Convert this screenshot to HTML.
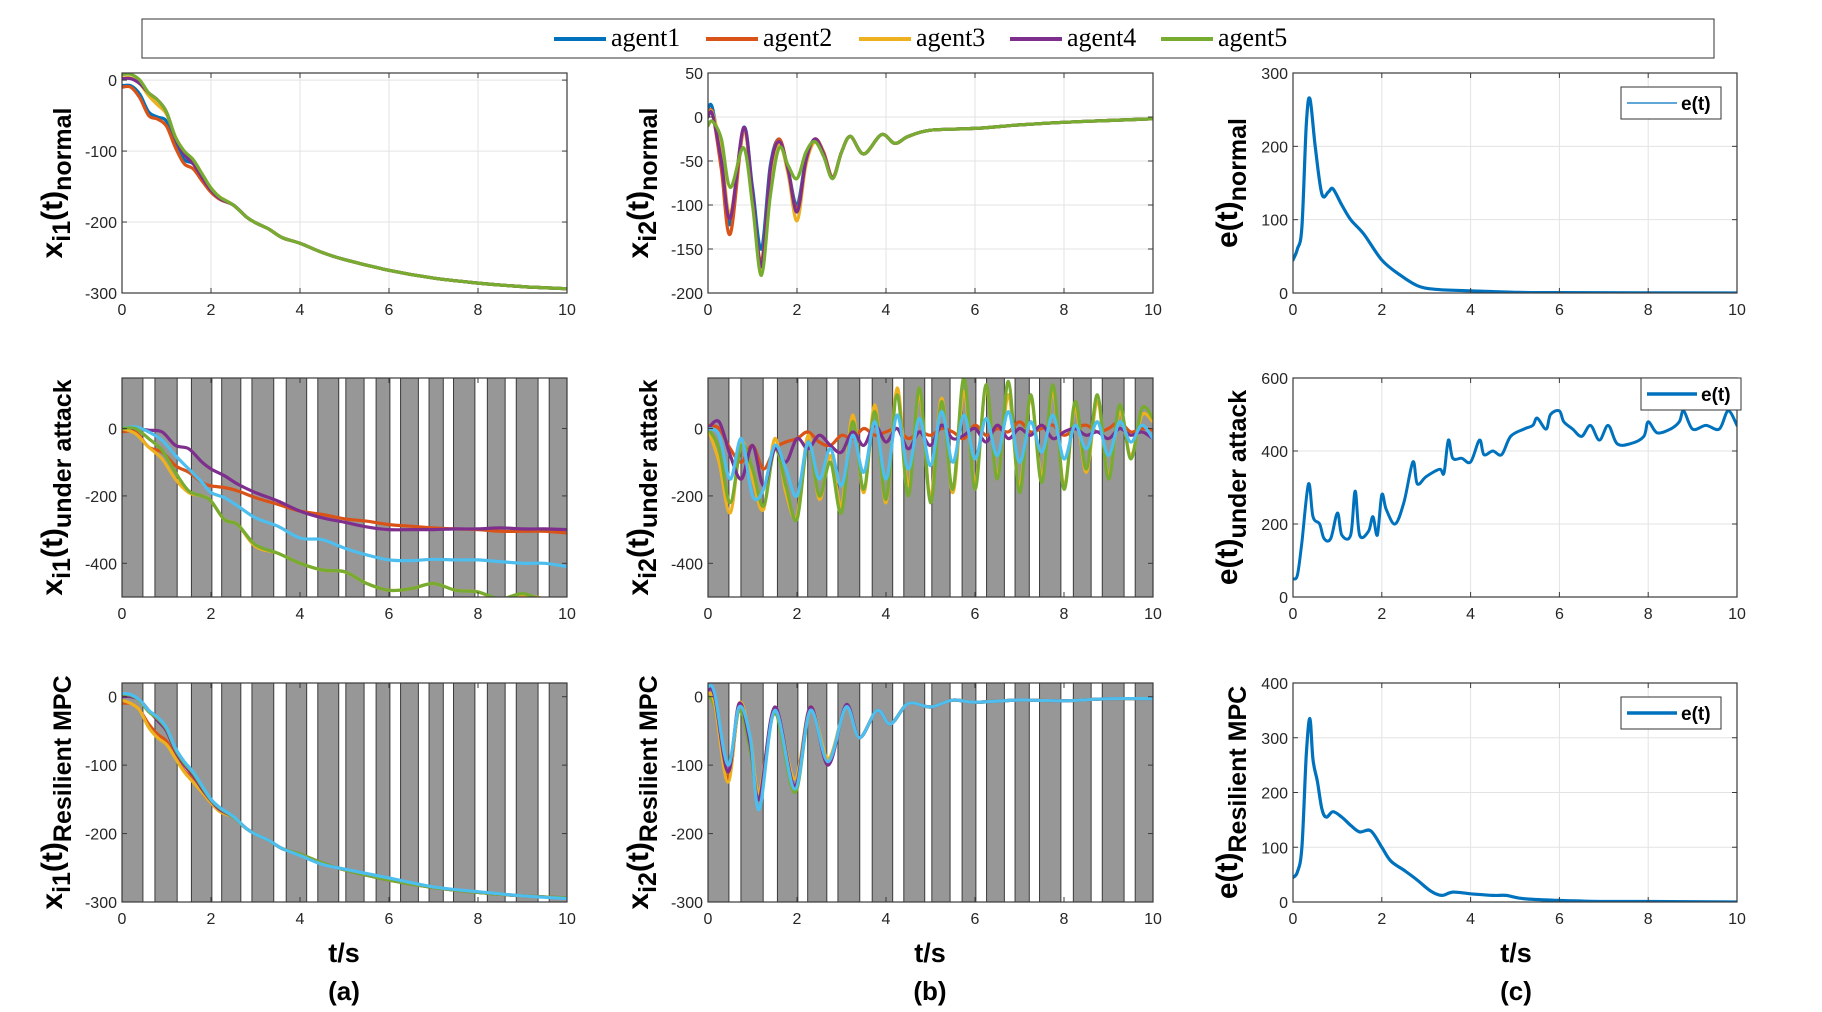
<!DOCTYPE html>
<html><head><meta charset="utf-8"><style>
html,body{margin:0;padding:0;background:#fff}
svg{display:block}
</style></head><body>
<svg id="fig" width="1822" height="1012" xmlns="http://www.w3.org/2000/svg" font-family="Liberation Sans, sans-serif">
<rect x="0" y="0" width="1822" height="1012" fill="#fff"/>
<g>
<rect x="142" y="19" width="1572" height="39" fill="#fff" stroke="#333" stroke-width="1"/>
</g>
</svg>
<script>
// ---------- data ----------
const COLORS = ['#0072BD','#D95319','#EDB120','#7E2F8E','#77AC30','#4DBEEE'];
const legendNames = ['agent1','agent2','agent3','agent4','agent5'];
const attackGaps = [[0.47,0.74],[1.24,1.56],[2.02,2.24],[2.67,2.92],[3.41,3.69],[4.15,4.40],[4.87,5.03],[5.44,5.71],[6.02,6.26],[6.66,6.90],[7.22,7.45],[7.93,8.21],[8.61,8.86],[9.35,9.60]];

const T1 = [0,0.2,0.4,0.6,0.8,1.0,1.2,1.4,1.6,1.8,2.0,2.2,2.5,2.8,3.0,3.3,3.6,4,4.5,5,6,7,8,9,10];
const tail1 = [-176,-193,-201,-210,-222,-230,-243,-253,-268,-279,-286,-291,-294];
const n1_green  = [8,8,0,-18,-28,-45,-80,-100,-112,-132,-152,-165].concat(tail1);
const n1_yellow = [3,3,-5,-22,-35,-48,-80,-102,-115,-135,-152,-165].concat(tail1);
const n1_purple = [2,2,-5,-18,-28,-45,-82,-105,-118,-137,-155,-167].concat(tail1);
const n1_blue   = [-8,-8,-20,-45,-52,-58,-88,-112,-118,-138,-155,-168].concat(tail1);
const n1_red    = [-10,-10,-25,-50,-55,-65,-95,-118,-125,-142,-158,-168].concat(tail1);

const T2 = [0,0.1,0.3,0.5,0.8,1.0,1.2,1.4,1.6,1.8,2.0,2.2,2.4,2.6,2.8,3.0,3.2,3.5,3.9,4.2,4.5,5,6,7,8,9,10];
const tail2 = [-40,-22,-42,-20,-30,-22,-15,-13,-9,-6,-4,-2];
const n2_red    = [0,5,-60,-133,-15,-90,-165,-60,-25,-60,-105,-50,-25,-40,-68].concat(tail2);
const n2_blue   = [10,10,-50,-122,-12,-80,-150,-55,-25,-60,-100,-48,-25,-42,-70].concat(tail2);
const n2_yellow = [0,5,-40,-110,-15,-90,-175,-70,-30,-65,-118,-55,-28,-42,-70].concat(tail2);
const n2_purple = [0,3,-50,-115,-12,-85,-170,-60,-28,-60,-108,-50,-25,-42,-69].concat(tail2);
const n2_green  = [-10,-5,-25,-80,-35,-100,-180,-90,-35,-55,-70,-40,-28,-45,-70].concat(tail2);

const Te1 = [0,0.1,0.2,0.3,0.38,0.5,0.65,0.8,0.9,1.1,1.3,1.6,2,2.4,2.8,3.2,4,5,6,10];
const e1  = [45,60,90,230,265,200,135,138,142,120,100,80,45,25,10,5,3,1,0.5,0];

const T3 = [0,0.3,0.6,0.9,1.2,1.5,1.8,2.0,2.3,2.6,3.0,3.5,4,4.5,5,5.5,6,6.5,7,7.5,8,8.5,9,9.5,10];
const a1_purple = [0,0,-5,-10,-50,-60,-100,-120,-140,-165,-190,-215,-245,-265,-278,-292,-300,-300,-300,-298,-298,-295,-298,-298,-300];
const a1_red    = [-10,-10,-55,-70,-110,-130,-160,-170,-175,-185,-205,-225,-245,-255,-268,-275,-285,-290,-295,-298,-300,-305,-305,-305,-310];
const a1_cyan   = [0,5,-10,-35,-80,-120,-160,-190,-205,-230,-265,-290,-325,-330,-355,-375,-390,-392,-388,-390,-390,-395,-400,-400,-410];
const a1_yellow = [0,-15,-55,-90,-150,-190,-200,-215,-270,-285,-350,-370,-400,-420,-425,-460,-480,-475,-460,-480,-485,-510,-495,-505,-510];
const a1_green  = [0,0,-30,-65,-130,-185,-200,-215,-270,-285,-345,-370,-400,-420,-425,-460,-480,-475,-460,-480,-485,-505,-490,-510,-510];

const T4 = [0,0.25,0.5,0.75,1,1.25,1.5,1.75,2,2.25,2.5,2.75,3,3.25,3.5,3.75,4,4.25,4.5,4.75,5,5.25,5.5,5.75,6,6.25,6.5,6.75,7,7.25,7.5,7.75,8,8.25,8.5,8.75,9,9.25,9.5,9.75,10];
const a2_red    = [10,0,-60,-100,-50,-120,-60,-40,-30,-10,-40,-50,-20,-30,0,-20,-10,0,-30,-10,-20,0,-10,-30,10,-20,0,-10,20,-10,0,10,-20,0,10,-10,0,20,-10,0,-5];
const a2_purple = [0,20,-80,-150,-50,-170,-60,-100,-30,-60,-20,-50,-70,-10,-50,10,-40,0,-60,-10,-50,10,-30,-20,0,-40,10,-30,0,-20,10,-30,-10,0,-20,-10,-30,0,-20,-10,-30];
const a2_yellow = [0,-100,-250,-40,-150,-240,-30,-190,-260,-20,-210,-80,-230,40,-190,70,-220,120,-170,100,-200,90,-190,110,-160,120,-140,100,-170,90,-140,110,-170,60,-130,80,-140,50,-80,40,20];
const a2_green  = [0,-60,-220,-50,-120,-230,-60,-170,-270,-40,-200,-100,-250,20,-180,50,-210,100,-200,120,-220,80,-180,150,-180,130,-150,140,-190,100,-160,130,-180,80,-120,100,-150,70,-90,60,30];
const a2_cyan   = [0,-20,-150,-30,-200,-180,-50,-120,-200,-40,-150,-60,-170,-20,-130,20,-150,40,-120,30,-110,50,-100,40,-90,30,-80,50,-100,20,-70,40,-90,10,-60,20,-80,20,-40,10,-30];

const Te2 = [0,0.1,0.2,0.35,0.45,0.6,0.7,0.85,1.0,1.1,1.3,1.4,1.5,1.7,1.8,1.9,2.0,2.1,2.3,2.5,2.7,2.8,3.0,3.3,3.4,3.5,3.6,3.8,4.0,4.2,4.3,4.5,4.7,4.9,5.2,5.4,5.5,5.7,5.8,6.0,6.1,6.3,6.5,6.7,6.9,7.1,7.3,7.6,7.9,8.0,8.2,8.5,8.7,8.8,9.0,9.3,9.6,9.8,10];
const e2  = [50,60,150,310,220,200,160,160,230,170,170,290,170,180,220,170,280,240,200,260,370,310,330,350,340,430,380,380,370,430,390,400,390,440,460,470,490,460,500,510,480,460,440,470,430,470,420,420,440,480,450,460,480,510,460,470,460,510,470];

const r1_cyan   = [5,3,-5,-20,-30,-45,-75,-95,-110,-130,-150,-162,-175,-193,-201,-210,-222,-232,-245,-252,-265,-278,-285,-291,-295];
const r1_green  = [4,2,-6,-22,-32,-47,-77,-97,-112,-132,-151,-163].concat(tail1);
const r1_purple = [0,0,-5,-20,-35,-50,-80,-100,-115,-135,-152,-165].concat(tail1);
const r1_yellow = [-5,-10,-20,-45,-60,-70,-90,-110,-125,-140,-155,-168].concat(tail1);
const r1_red    = [-10,-10,-20,-40,-55,-65,-88,-108,-120,-140,-155,-167].concat(tail1);

const T5 = [0,0.15,0.45,0.7,0.95,1.15,1.5,1.95,2.3,2.7,3.1,3.4,3.8,4.1,4.5,5,5.5,6,7,8,9,10];
const tail5 = [-60,-20,-40,-10,-15,-5,-8,-5,-6,-3,-3];
const r2_red    = [10,0,-120,-15,-65,-145,-20,-130,-18,-95,-14].concat(tail5);
const r2_green  = [0,-15,-110,-20,-80,-145,-25,-140,-20,-95,-15].concat(tail5);
const r2_yellow = [5,-10,-125,-10,-60,-140,-20,-120,-15,-90,-15].concat(tail5);
const r2_purple = [10,0,-110,-10,-70,-150,-15,-130,-15,-100,-12].concat(tail5);
const r2_cyan   = [15,5,-100,-15,-60,-165,-20,-135,-20,-95,-15].concat(tail5);

const Te3 = [0,0.1,0.2,0.3,0.38,0.45,0.55,0.65,0.75,0.9,1.1,1.3,1.5,1.75,2.0,2.2,2.5,2.8,3.1,3.35,3.6,4.0,4.5,4.8,5.2,6,7,8,10];
const e3  = [45,55,100,270,335,260,220,170,155,165,155,140,128,130,100,75,58,40,20,12,18,15,12,12,6,3,1,1,0];

const xTicks = [0,2,4,6,8,10];

// ---------- layout ----------
const NS='http://www.w3.org/2000/svg';
const svg=document.getElementById('fig');
function mk(tag,attrs,parent){const e=document.createElementNS(NS,tag);for(const k in attrs)e.setAttribute(k,attrs[k]);(parent||svg).appendChild(e);return e;}
const colX=[[122,567],[708,1153],[1293,1737]];
const rowY=[[73,293],[378,597],[683,902]];

function smoothPath(pts){
  let d='M'+pts[0][0].toFixed(1)+','+pts[0][1].toFixed(1);
  for(let i=0;i<pts.length-1;i++){
    const p0=pts[i-1]||pts[i],p1=pts[i],p2=pts[i+1],p3=pts[i+2]||p2;
    const c1=[p1[0]+(p2[0]-p0[0])/6,p1[1]+(p2[1]-p0[1])/6];
    const c2=[p2[0]-(p3[0]-p1[0])/6,p2[1]-(p3[1]-p1[1])/6];
    d+='C'+c1[0].toFixed(1)+','+c1[1].toFixed(1)+' '+c2[0].toFixed(1)+','+c2[1].toFixed(1)+' '+p2[0].toFixed(1)+','+p2[1].toFixed(1);
  }
  return d;
}

let clipId=0;
function panel(name,c,r,ylim,yticks,stripes,grid,series,ylab,legend){
  const [x0,x1]=colX[c],[y0,y1]=rowY[r];
  const g=mk('g',{});
  
  
  const sx=t=>x0+(t/10)*(x1-x0);
  const sy=v=>y1-(v-ylim[0])/(ylim[1]-ylim[0])*(y1-y0);
  mk('rect',{x:x0,y:y0,width:x1-x0,height:y1-y0,fill:'#fff'},g);
  if(stripes){
    let s=0;
    const bounds=[];
    attackGaps.forEach(gp=>{bounds.push([s,gp[0]]);s=gp[1];});
    bounds.push([s,10]);
    bounds.forEach(b=>{
      const st=mk('rect',{x:sx(b[0]),y:y0,width:sx(b[1])-sx(b[0]),height:y1-y0,fill:'#979797',stroke:'#3a3a3a','stroke-width':1},g);
      
      
    });
  }
  if(grid){
    xTicks.forEach(t=>mk('line',{x1:sx(t),x2:sx(t),y1:y0,y2:y1,stroke:'#e3e3e3','stroke-width':1},g));
    yticks.forEach(v=>mk('line',{x1:x0,x2:x1,y1:sy(v),y2:sy(v),stroke:'#e3e3e3','stroke-width':1},g));
  }
  const cid='c'+(clipId++);
  const cp=mk('clipPath',{id:cid},g);
  mk('rect',{x:x0,y:y0,width:x1-x0,height:y1-y0},cp);
  const sg=mk('g',{'clip-path':'url(#'+cid+')'},g);
  series.forEach(s=>{
    const pts=s.t.map((t,i)=>[sx(t),sy(s.v[i])]);
    const p=mk('path',{d:smoothPath(pts),fill:'none',stroke:s.c,'stroke-width':s.w||3.2,'stroke-linejoin':'round','stroke-linecap':'round'},sg);
    
    
  });
  mk('rect',{x:x0,y:y0,width:x1-x0,height:y1-y0,fill:'none',stroke:'#3a3a3a','stroke-width':1.2},g);
  xTicks.forEach(t=>{
    mk('line',{x1:sx(t),x2:sx(t),y1:y1,y2:y1-5,stroke:'#3a3a3a'},g);
    mk('line',{x1:sx(t),x2:sx(t),y1:y0,y2:y0+5,stroke:'#3a3a3a'},g);
    const tx=mk('text',{x:sx(t),y:y1+22,'text-anchor':'middle','font-size':16,fill:'#262626'},g);
    tx.textContent=t;
    
    
  });
  yticks.forEach(v=>{
    mk('line',{x1:x0,x2:x0+5,y1:sy(v),y2:sy(v),stroke:'#3a3a3a'},g);
    mk('line',{x1:x1,x2:x1-5,y1:sy(v),y2:sy(v),stroke:'#3a3a3a'},g);
    const tx=mk('text',{x:x0-5,y:sy(v)+6,'text-anchor':'end','font-size':16,fill:'#262626'},g);
    tx.textContent=v;
    
    
  });
  // y label
  const lx=x0-(c==2?56:60), ly=(y0+y1)/2;
  const yl=mk('text',{transform:'translate('+lx+','+ly+') rotate(-90)','text-anchor':'middle','font-size':30,'font-weight':'bold',fill:'#000'},g);
  
  
  const a=mk('tspan',{},yl);a.textContent=ylab[0];
  if(ylab[1]){const b=mk('tspan',{'font-size':25,dy:8},yl);b.textContent=ylab[1];const d=mk('tspan',{dy:-8},yl);d.textContent='(t)';}
  const e=mk('tspan',{'font-size':25,dy:9},yl);e.textContent=ylab[2];
  if(legend){
    const lg=mk('g',{},g);
    
    
    mk('rect',{x:legend[0],y:legend[1],width:100,height:32,fill:'#fff',stroke:'#333','stroke-width':1},lg);
    mk('line',{x1:legend[0]+6,x2:legend[0]+56,y1:legend[1]+16,y2:legend[1]+16,stroke:COLORS[0],'stroke-width':legend[2]},lg);
    const t=mk('text',{x:legend[0]+60,y:legend[1]+23,'font-size':19,'font-weight':'bold'},lg);t.textContent='e(t)';
  }
}

function S(n,t,v,c,w){return {n:n,t:t,v:v,c:c,w:w};}
const Y1a=[0,-100,-200,-300], Y1b=[50,0,-50,-100,-150,-200];
panel('plot-x1-normal',0,0,[-300,10],Y1a,false,true,[
  S('agent1-line',T1,n1_blue,COLORS[0]),S('agent2-line',T1,n1_red,COLORS[1]),S('agent3-line',T1,n1_yellow,COLORS[2]),
  S('agent4-line',T1,n1_purple,COLORS[3]),S('agent5-line',T1,n1_green,COLORS[4])],['x','i1','normal']);
panel('plot-x2-normal',1,0,[-200,50],Y1b,false,true,[
  S('agent1-line',T2,n2_blue,COLORS[0]),S('agent2-line',T2,n2_red,COLORS[1]),S('agent3-line',T2,n2_yellow,COLORS[2]),
  S('agent4-line',T2,n2_purple,COLORS[3]),S('agent5-line',T2,n2_green,COLORS[4])],['x','i2','normal']);
panel('plot-e-normal',2,0,[0,300],[0,100,200,300],false,true,[S('e-line',Te1,e1,COLORS[0])],['e(t)','','normal'],[1621,87,1.2]);

panel('plot-x1-attack',0,1,[-500,150],[0,-200,-400],true,false,[
  S('agent2-line',T3,a1_red,COLORS[1]),S('agent4-line',T3,a1_purple,COLORS[3]),S('agent6-line',T3,a1_cyan,COLORS[5]),
  S('agent3-line',T3,a1_yellow,COLORS[2]),S('agent5-line',T3,a1_green,COLORS[4])],['x','i1','under attack']);
panel('plot-x2-attack',1,1,[-500,150],[0,-200,-400],true,false,[
  S('agent2-line',T4,a2_red,COLORS[1]),S('agent3-line',T4,a2_yellow,COLORS[2]),S('agent5-line',T4,a2_green,COLORS[4]),
  S('agent4-line',T4,a2_purple,COLORS[3]),S('agent6-line',T4,a2_cyan,COLORS[5])],['x','i2','under attack']);
panel('plot-e-attack',2,1,[0,600],[0,200,400,600],false,true,[S('e-line',Te2,e2,COLORS[0],3)],['e(t)','','under attack'],[1641,378,3.5]);

panel('plot-x1-resilient',0,2,[-300,20],Y1a,true,false,[
  S('agent2-line',T1,r1_red,COLORS[1]),S('agent3-line',T1,r1_yellow,COLORS[2]),S('agent4-line',T1,r1_purple,COLORS[3]),
  S('agent5-line',T1,r1_green,COLORS[4]),S('agent6-line',T1,r1_cyan,COLORS[5])],['x','i1','Resilient MPC']);
panel('plot-x2-resilient',1,2,[-300,20],[0,-100,-200,-300],true,false,[
  S('agent2-line',T5,r2_red,COLORS[1]),S('agent5-line',T5,r2_green,COLORS[4]),S('agent3-line',T5,r2_yellow,COLORS[2]),
  S('agent4-line',T5,r2_purple,COLORS[3]),S('agent6-line',T5,r2_cyan,COLORS[5])],['x','i2','Resilient MPC']);
panel('plot-e-resilient',2,2,[0,400],[0,100,200,300,400],false,true,[S('e-line',Te3,e3,COLORS[0])],['e(t)','','Resilient MPC'],[1621,697,3.5]);

// x labels and captions
[['a',344],['b',930],['c',1516]].forEach(p=>{
  const t=mk('text',{x:p[1],y:962,'text-anchor':'middle','font-size':27,'font-weight':'bold'});
  t.textContent='t/s';
  
  
  const c=mk('text',{x:p[1],y:1000,'text-anchor':'middle','font-size':26,'font-weight':'bold'});
  c.textContent='('+p[0]+')';
  
  
});

// top legend
const legX=[554,706,859,1010,1161];
legendNames.forEach((n,i)=>{
  const g=mk('g',{});
  
  
  mk('line',{x1:legX[i],x2:legX[i]+52,y1:39,y2:39,stroke:COLORS[i],'stroke-width':4},g);
  const t=mk('text',{x:legX[i]+57,y:46,'font-size':26,'font-family':'Liberation Serif, serif'},g);
  t.textContent=n;
});
</script>
</body></html>
